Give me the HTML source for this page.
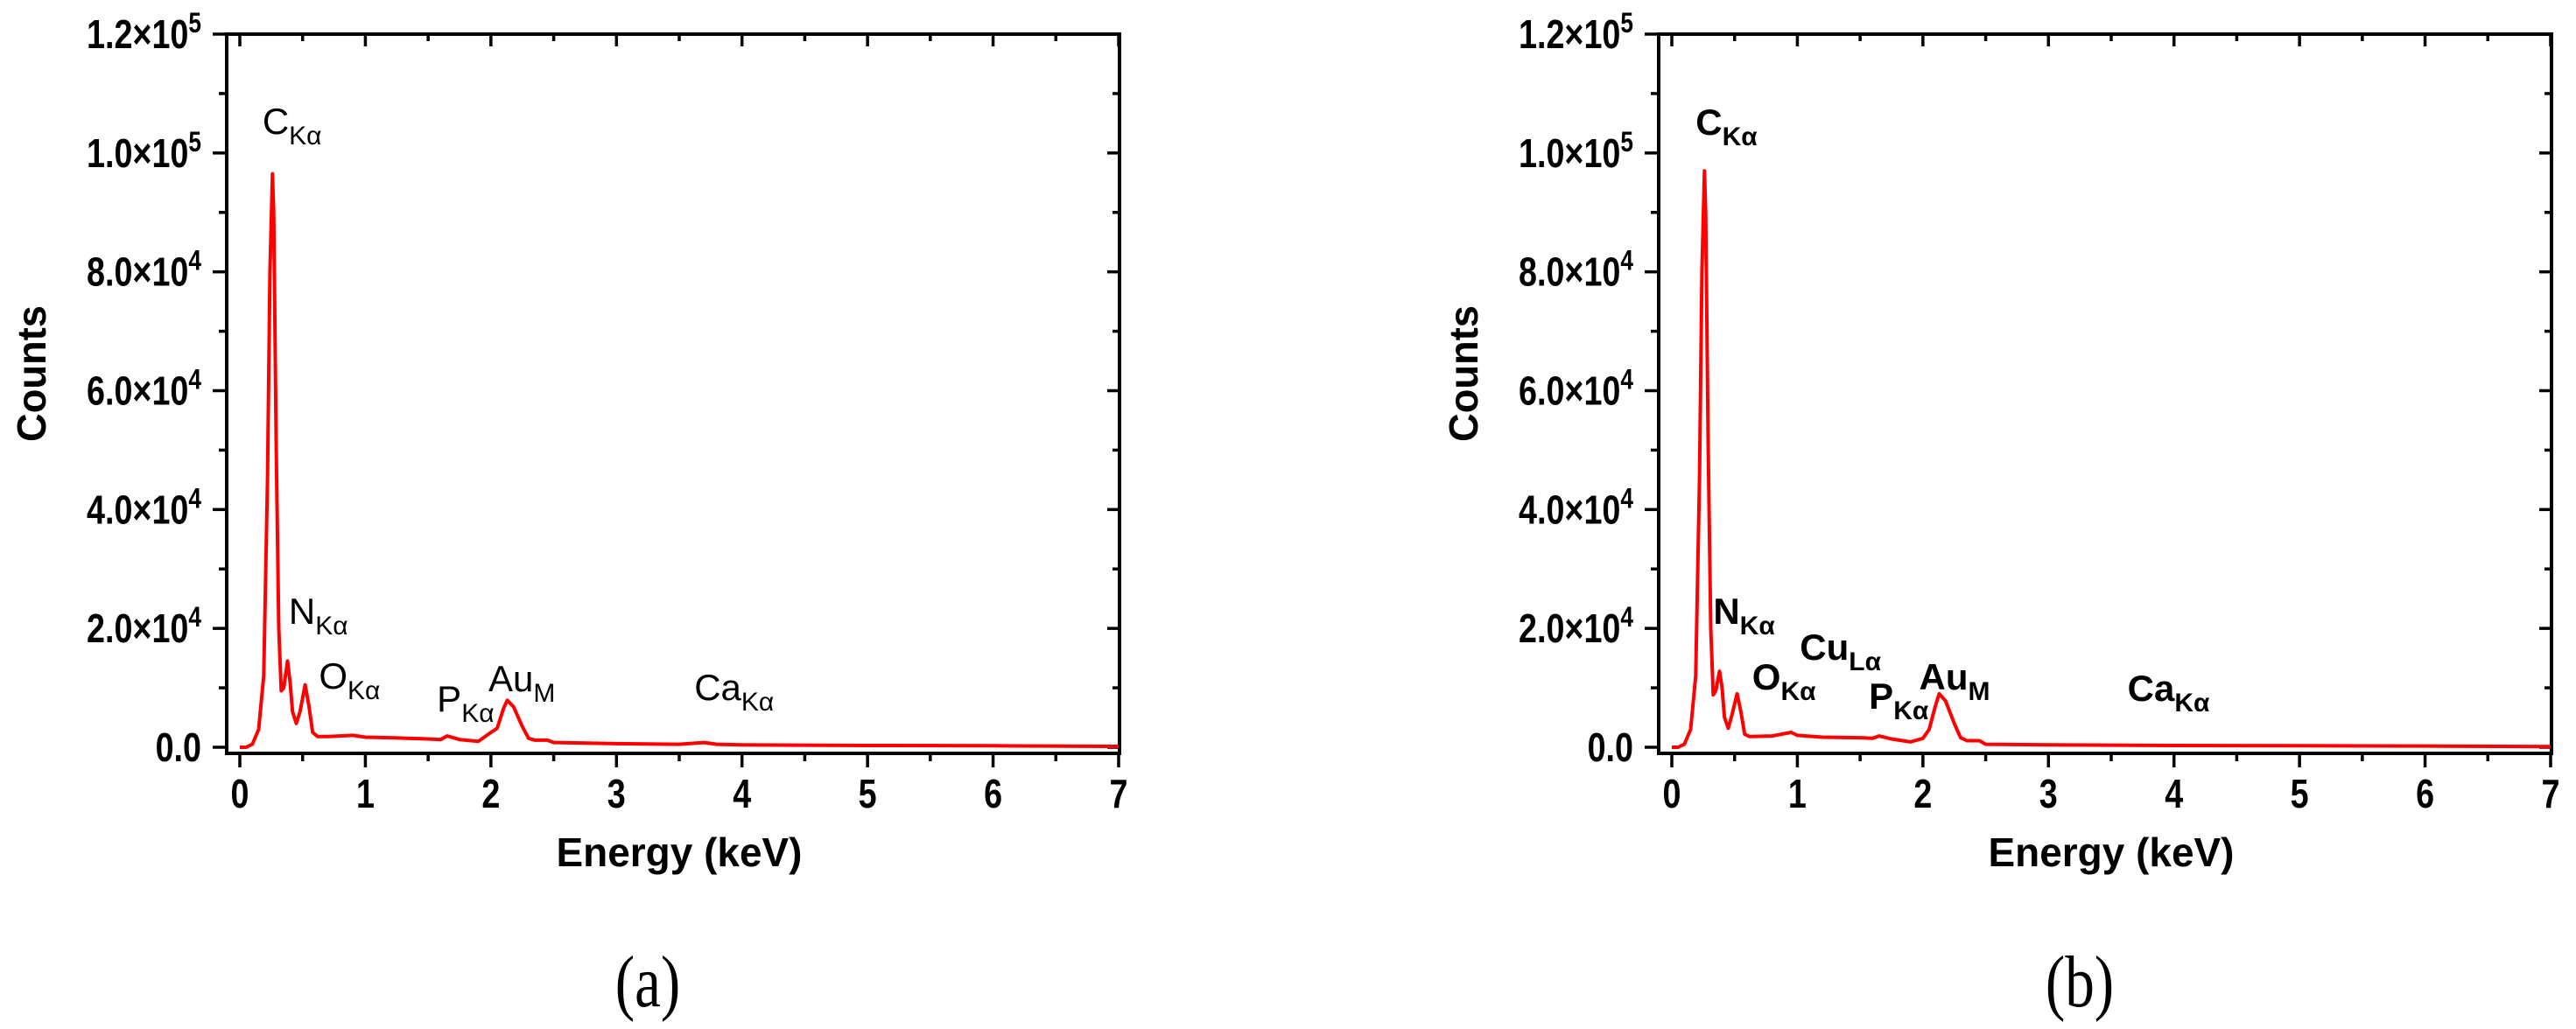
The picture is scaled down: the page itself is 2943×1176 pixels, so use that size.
<!DOCTYPE html>
<html><head><meta charset="utf-8"><title>EDS spectra</title>
<style>
html,body{margin:0;padding:0;background:#fff;overflow:hidden;}
svg{display:block;}
text{font-family:"Liberation Sans",Arial,sans-serif;fill:#000;}
</style></head>
<body>
<svg id="fig" width="2943" height="1176" viewBox="0 0 2943 1176" xmlns="http://www.w3.org/2000/svg"></svg>
<script>
// ---- data ----
const xTickValues = [0,1,2,3,4,5,6,7];
const yTickValues = [0,20000,40000,60000,80000,100000,120000];
const yTickMantissa = ["0.0","2.0","4.0","6.0","8.0","1.0","1.2"];
const yTickExponent = ["","4","4","4","4","5","5"];

const energiesA = [0,0.05,0.1,0.15,0.19,0.22,0.24,0.26,0.27,0.29,0.31,0.33,0.35,0.38,0.4,0.42,0.45,0.48,0.52,0.55,0.58,0.62,0.7,0.9,1.0,1.2,1.5,1.6,1.65,1.75,1.9,2.0,2.05,2.1,2.13,2.18,2.25,2.3,2.35,2.45,2.5,3.0,3.5,3.7,3.8,4.0,5.0,6.0,7.0];
const countsA  = [0,0,500,3000,12000,45000,80000,96500,90000,50000,20000,9500,10000,14500,11000,6000,4000,6000,10500,7000,2500,1800,1800,2000,1700,1600,1400,1300,1900,1300,1000,2500,3200,6500,7900,6800,3500,1500,1200,1200,800,600,500,800,500,400,300,250,150];

const energiesB = [0,0.05,0.1,0.15,0.19,0.22,0.24,0.26,0.27,0.29,0.31,0.33,0.35,0.38,0.4,0.42,0.45,0.48,0.52,0.55,0.58,0.62,0.8,0.95,1.0,1.2,1.5,1.6,1.65,1.75,1.9,2.0,2.05,2.1,2.13,2.18,2.25,2.3,2.35,2.45,2.5,3.0,3.5,4.0,5.0,6.0,7.0];
const countsB  = [0,0,500,3000,12000,45000,80000,97000,90000,50000,20000,8800,9500,12800,10000,5000,3200,5500,9000,6000,2200,1800,1900,2500,2000,1700,1600,1500,1900,1400,900,1500,3000,7000,9000,7800,4000,1600,1100,1100,500,400,350,300,250,200,100];

const labelsA = [
 {main:"C",sub:"K\u03b1",e:0.18,y:153},{main:"N",sub:"K\u03b1",e:0.39,y:713},
 {main:"O",sub:"K\u03b1",e:0.63,y:787},{main:"P",sub:"K\u03b1",e:1.57,y:813},
 {main:"Au",sub:"M",e:1.98,y:790},{main:"Ca",sub:"K\u03b1",e:3.62,y:800}];
const labelsB = [
 {main:"C",sub:"K\u03b1",e:0.19,y:154},{main:"N",sub:"K\u03b1",e:0.33,y:713},
 {main:"Cu",sub:"L\u03b1",e:1.02,y:754},{main:"O",sub:"K\u03b1",e:0.64,y:788},
 {main:"P",sub:"K\u03b1",e:1.57,y:810},{main:"Au",sub:"M",e:1.97,y:788},
 {main:"Ca",sub:"K\u03b1",e:3.63,y:801}];

// ---- drawing ----
const NS="http://www.w3.org/2000/svg";
const svg=document.getElementById('fig');
function mk(tag,attrs,parent){const e=document.createElementNS(NS,tag);for(const k in attrs)e.setAttribute(k,attrs[k]);(parent||svg).appendChild(e);return e;}

function panel(off, energies, counts, labels, bold, letter, id){
  const x0=274+off, x1=1278+off, y0=854, yTop=39;
  const X=e=>x0+(x1-x0)*e/7;
  const Y=c=>y0-(y0-yTop)*c/120000;
  const g=mk('g',{});
  
  
  const bl=259+off, br=1279+off, bt=39, bb=861;
  const box=mk('rect',{x:bl,y:bt,width:br-bl,height:bb-bt,fill:'none',stroke:'#000','stroke-width':4},g);
  
  
  for(let i=0;i<=14;i++){
    const e=i*0.5, x=X(e), major=i%2===0;
    const t=mk('line',{x1:x,x2:x,y1:bb,y2:bb+(major?16:9),stroke:'#000','stroke-width':3.5},g);
    
    
    const t2=mk('line',{x1:x,x2:x,y1:bt,y2:bt+(major?14:8),stroke:'#000','stroke-width':3.5},g);
    
    
  }
  xTickValues.forEach(v=>{
    const tx=mk('text',{x:X(v),y:923,'font-size':46,'font-weight':'bold','text-anchor':'middle',transform:`translate(${X(v)},0) scale(0.82,1) translate(${-X(v)},0)`},g);
    tx.textContent=String(v);
    
    
  });
  for(let i=0;i<=12;i++){
    const c=i*10000, y=Y(c), major=i%2===0;
    const t=mk('line',{x1:bl,x2:bl-(major?16:9),y1:y,y2:y,stroke:'#000','stroke-width':3.5},g);
    
    
    const t2=mk('line',{x1:br,x2:br-(major?14:8),y1:y,y2:y,stroke:'#000','stroke-width':3.5},g);
    
    
  }
  yTickValues.forEach((v,i)=>{
    const rx=bl-29, y=Y(v)+16;
    const tx=mk('text',{x:rx,y:y,'font-size':46,'font-weight':'bold','text-anchor':'end',transform:`translate(${rx},0) scale(0.82,1) translate(${-rx},0)`},g);
    if(yTickExponent[i]){
      tx.appendChild(document.createTextNode(yTickMantissa[i]+"\u00d710"));
      const s=mk('tspan',{'font-size':32,dy:-18},tx);
      s.textContent=yTickExponent[i];
    } else tx.textContent=yTickMantissa[i];
    
    
  });
  const cx=(x0+x1)/2;
  const xt=mk('text',{x:cx,y:990,'font-size':46,'font-weight':'bold','text-anchor':'middle',textLength:281,lengthAdjust:'spacingAndGlyphs'},g);
  xt.textContent="Energy (keV)";
  
  
  const ycx=36+off+16, ycy=427;
  const yt=mk('text',{x:ycx,y:ycy,'font-size':46,'font-weight':'bold','text-anchor':'middle',transform:`rotate(-90 ${ycx} ${ycy})`,textLength:156,lengthAdjust:'spacingAndGlyphs'},g);
  yt.textContent="Counts";
  
  
  const pts=energies.map((e,i)=>X(e).toFixed(1)+','+Y(counts[i]).toFixed(1)).join(' ');
  const pl=mk('polyline',{points:pts,fill:'none',stroke:'#ff0000','stroke-width':4,'stroke-linejoin':'round'},g);
  
  
  labels.forEach(l=>{
    const tx=mk('text',{x:X(l.e),y:l.y,'font-size':42,'font-weight':bold?'bold':'normal'},g);
    tx.appendChild(document.createTextNode(l.main));
    const s=mk('tspan',{'font-size':30,dy:12},tx);
    s.textContent=l.sub;
    
    
  });
  const px=740+off;
  const pt=mk('text',{x:px,y:1150,'font-size':84,'text-anchor':'middle',transform:`translate(${px},0) scale(0.8,1) translate(${-px},0)`},g);
  pt.setAttribute('style','font-family:"Liberation Serif",serif');
  pt.textContent="("+letter+")";
  
  
}
panel(0, energiesA, countsA, labelsA, false, 'a', 'a');
panel(1636, energiesB, countsB, labelsB, true, 'b', 'b');
</script>
</body></html>
